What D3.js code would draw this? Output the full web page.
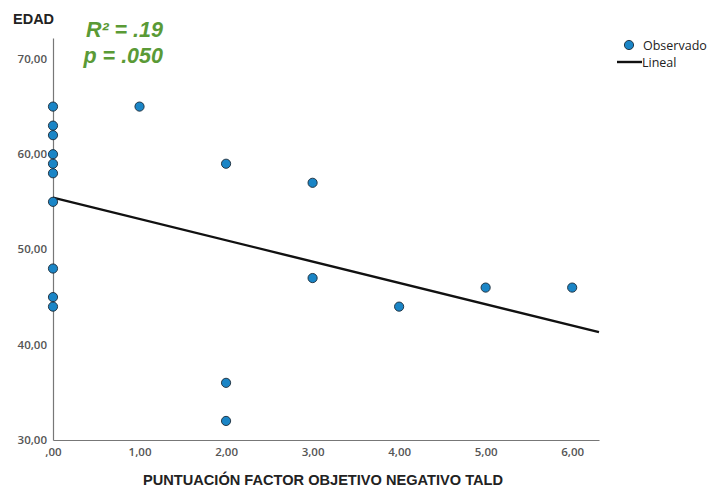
<!DOCTYPE html>
<html>
<head>
<meta charset="utf-8">
<script src="https://cdn.jsdelivr.net/npm/d3@7"></script>
<style>
  body { margin: 0; background: #fff; }
</style>
</head>
<body>
<div id="chart"></div>
<script>
// observed points (x = puntuación, y = edad)
const xValues = [0, 0, 0, 0, 0, 0, 0, 0, 0, 0, 1, 2, 2, 2, 3, 3, 4, 5, 6];
const yValues = [65, 63, 62, 60, 59, 58, 55, 48, 45, 44, 65, 59, 36, 32, 57, 47, 44, 46, 46];
const xTicks = [0, 1, 2, 3, 4, 5, 6];
const yTicks = [30, 40, 50, 60, 70];
// linear fit
const fitIntercept = 55.45;
const fitSlope = -2.24;
const statLines = ['R² = .19', 'p = .050'];
const legendLabels = ['Observado', 'Lineal'];

const W = 712, H = 489;
const m = { top: 38, right: 113, bottom: 49, left: 53 };

const fmt = (v) => d3.format('.2f')(v).replace('.', ',').replace(/^0,/, ',');

const svg = d3.select('#chart')
  .append('svg')
  .attr('width', W)
  .attr('height', H)
  .style('font-family', '"Open Sans", "Noto Sans", sans-serif');

const x = d3.scaleLinear().domain([0, 6.31]).range([m.left, W - m.right]);
const y = d3.scaleLinear().domain([30, 72.2]).range([H - m.bottom, m.top]);

const xAxis = d3.axisBottom(x).tickValues(xTicks).tickFormat(fmt).tickSize(0).tickPadding(6);
const yAxis = d3.axisLeft(y).tickValues(yTicks).tickFormat(fmt).tickSize(0).tickPadding(6);

const gx = svg.append('g')
  .attr('transform', 'translate(0,' + y(30) + ')')
  .call(xAxis);
const gy = svg.append('g')
  .attr('transform', 'translate(' + x(0) + ',0)')
  .call(yAxis);

[gx, gy].forEach((g) => {
  g.select('.domain').attr('stroke', '#777').attr('stroke-width', 1.2);
  g.selectAll('text')
    .attr('fill', '#555')
    .style('font-size', '11.5px')
    .style('font-weight', 600)
    .style('font-family', '"Open Sans", sans-serif');
});
gy.selectAll('text').attr('dy', '0.3em');
gx.selectAll('text').attr('dy', '0.85em');

// fit line
svg.append('line')
  .attr('x1', x(0))
  .attr('y1', y(fitIntercept))
  .attr('x2', x(6.31))
  .attr('y2', y(fitIntercept + fitSlope * 6.31))
  .attr('stroke', '#111')
  .attr('stroke-width', 2.4);

// points
svg.selectAll('.dot')
  .data(xValues.map((v, i) => ({ x: v, y: yValues[i] })))
  .enter()
  .append('circle')
  .attr('class', 'dot')
  .attr('cx', (d) => x(d.x))
  .attr('cy', (d) => y(d.y))
  .attr('r', 4.6)
  .attr('fill', '#1a85c6')
  .attr('stroke', '#1b2a38')
  .attr('stroke-width', 0.9);

// y title
svg.append('text')
  .attr('x', 13)
  .attr('y', 24)
  .text('EDAD')
  .style('font-family', '"Liberation Sans", Arial, sans-serif')
  .style('font-weight', 'bold')
  .style('font-size', '14.5px')
  .attr('fill', '#222');

// x title
svg.append('text')
  .attr('x', 323)
  .attr('y', 485)
  .attr('text-anchor', 'middle')
  .text('PUNTUACIÓN FACTOR OBJETIVO NEGATIVO TALD')
  .style('font-family', '"Liberation Sans", Arial, sans-serif')
  .style('font-weight', 'bold')
  .style('font-size', '14.6px')
  .attr('fill', '#222');

// stats
svg.selectAll('.stat')
  .data(statLines)
  .enter()
  .append('text')
  .attr('class', 'stat')
  .attr('x', 163)
  .attr('y', (d, i) => 37 + i * 26)
  .attr('text-anchor', 'end')
  .text((d) => d)
  .style('font-family', '"Liberation Sans", Arial, sans-serif')
  .style('font-weight', 'bold')
  .style('font-style', 'italic')
  .style('font-size', '21.5px')
  .attr('fill', '#5a9a36');

// legend
const lg = svg.append('g');
lg.append('circle')
  .attr('cx', 629)
  .attr('cy', 45)
  .attr('r', 4.6)
  .attr('fill', '#1a85c6')
  .attr('stroke', '#1b2a38')
  .attr('stroke-width', 0.9);
lg.append('line')
  .attr('x1', 617)
  .attr('x2', 642)
  .attr('y1', 62)
  .attr('y2', 62)
  .attr('stroke', '#111')
  .attr('stroke-width', 2.4);
lg.selectAll('text')
  .data(legendLabels)
  .enter()
  .append('text')
  .attr('x', (d, i) => (i === 0 ? 643 : 642))
  .attr('y', (d, i) => 49.5 + i * 17)
  .text((d) => d)
  .style('font-size', '12.5px')
  .attr('fill', '#222');
</script>
</body>
</html>
